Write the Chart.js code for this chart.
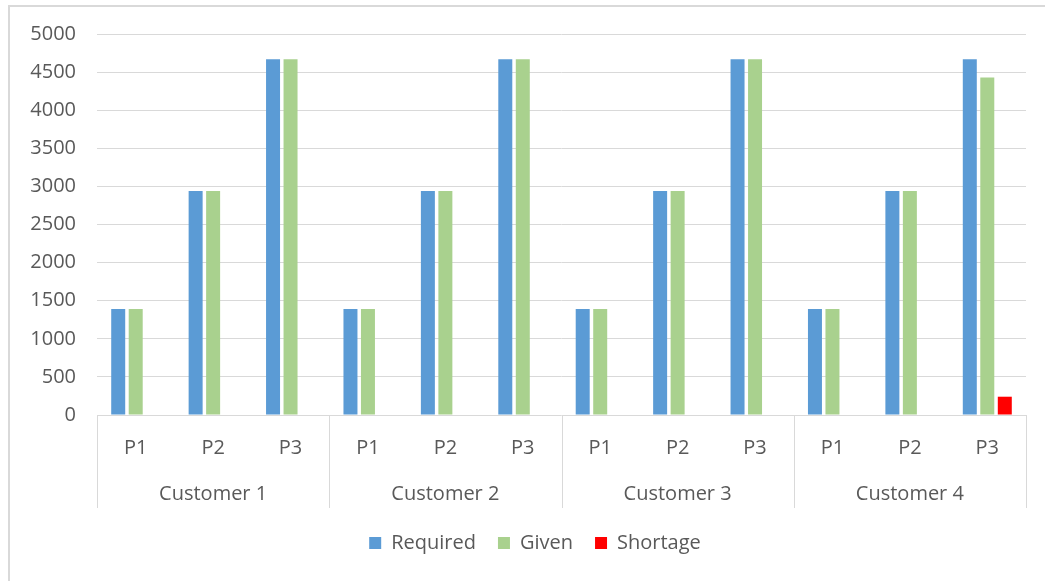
<!DOCTYPE html>
<html>
<head>
<meta charset="utf-8">
<script src="https://cdn.jsdelivr.net/npm/chart.js@4.4.1/dist/chart.umd.min.js"></script>
<style>
  html, body { margin: 0; padding: 0; background: #ffffff; }
  #wrap { position: relative; width: 1045px; height: 581px; overflow: hidden; }
  #frame { position: absolute; left: 8px; top: 5px; width: 1100px; height: 700px;
           border: 2px solid #d9d9d9; box-sizing: border-box; }
  #c { position: absolute; left: 0; top: 0; }
</style>
</head>
<body>
<div id="wrap">
  <div id="frame"></div>
  <canvas id="c" width="1045" height="581"></canvas>
</div>
<script>
// Products shipped to each customer
const products = ['P1', 'P2', 'P3'];
const customers = ['Customer 1', 'Customer 2', 'Customer 3', 'Customer 4'];

// Quantities per customer/product, in customer order
const required = [1390, 2940, 4670, 1390, 2940, 4670, 1390, 2940, 4670, 1390, 2940, 4670];
const given    = [1390, 2940, 4670, 1390, 2940, 4670, 1390, 2940, 4670, 1390, 2940, 4430];
const shortage = [0, 0, 0, 0, 0, 0, 0, 0, 0, 0, 0, 240];

// Y axis range
const yMin = 0, yMax = 5000, yStep = 500;

const labels = [];
customers.forEach(() => products.forEach(p => labels.push(p)));

const textColor = '#595959';
const gridColor = '#d9d9d9';
const fontFamily = '"Open Sans", "Liberation Sans", sans-serif';

// Draws the customer row under the product labels, with separators between groups
const groupAxis = {
  id: 'groupAxis',
  afterLayout(chart) {
    // centre the legend under the framed area rather than the whole canvas
    if (chart.legend) chart.legend.left += 44;
  },
  afterDraw(chart) {
    const x = chart.scales.x;
    const ctx = chart.ctx;
    const n = products.length;
    const bottom = x.top + 93;
    ctx.save();
    ctx.strokeStyle = gridColor;
    ctx.lineWidth = 1;
    for (let g = 0; g <= customers.length; g++) {
      const px = Math.round(x.getPixelForValue(g * n - 0.5)) + 0.5;
      ctx.beginPath();
      ctx.moveTo(px, x.top);
      ctx.lineTo(px, bottom);
      ctx.stroke();
    }
    ctx.fillStyle = textColor;
    ctx.font = '20px ' + fontFamily;
    ctx.textAlign = 'center';
    ctx.textBaseline = 'middle';
    customers.forEach((name, g) => {
      const cx = x.getPixelForValue(g * n + (n - 1) / 2);
      ctx.fillText(name, cx, x.top + 79);
    });
    ctx.restore();
  }
};

new Chart(document.getElementById('c'), {
  type: 'bar',
  data: {
    labels: labels,
    datasets: [
      { label: 'Required', data: required, backgroundColor: '#5b9bd5' },
      { label: 'Given', data: given, backgroundColor: '#a9d18e' },
      { label: 'Shortage', data: shortage, backgroundColor: '#ff0000' }
    ]
  },
  options: {
    responsive: false,
    animation: false,
    devicePixelRatio: 1,
    layout: { padding: { top: 34, right: 19, bottom: 18, left: 0 } },
    datasets: { bar: { categoryPercentage: 0.678, barPercentage: 0.8, borderWidth: 0 } },
    plugins: {
      tooltip: { enabled: false },
      legend: {
        position: 'bottom',
        labels: {
          color: textColor,
          font: { family: fontFamily, size: 20 },
          boxWidth: 12,
          boxHeight: 12,
          padding: 22
        }
      }
    },
    scales: {
      x: {
        grid: { display: false },
        border: { display: false },
        ticks: { color: textColor, font: { family: fontFamily, size: 20 }, padding: 13, maxRotation: 0, autoSkip: false },
        afterFit(s) { s.height = 96; }
      },
      y: {
        min: yMin,
        max: yMax,
        grid: { color: gridColor, drawTicks: false },
        border: { display: false },
        ticks: {
          stepSize: yStep,
          color: textColor,
          font: { family: fontFamily, size: 20 },
          padding: 21,
          callback: v => String(v)
        },
        afterFit(s) { s.width = 97; }
      }
    }
  },
  plugins: [groupAxis]
});
</script>
</body>
</html>
